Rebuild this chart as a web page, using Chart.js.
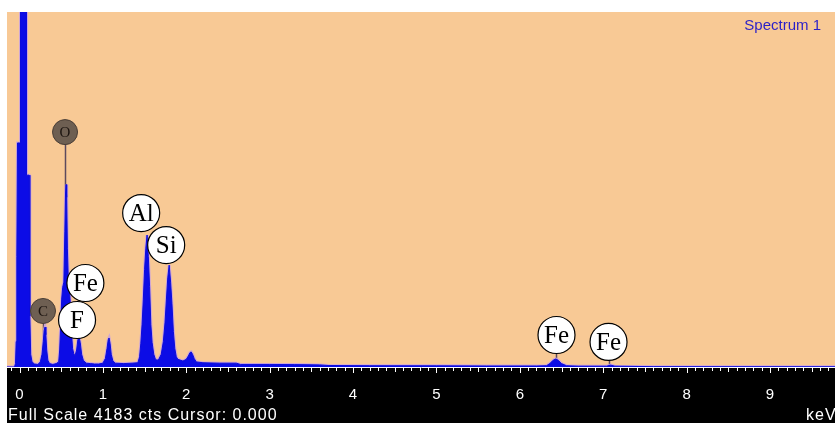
<!DOCTYPE html>
<html>
<head>
<meta charset="utf-8">
<script src="https://cdn.jsdelivr.net/npm/chart.js@4/dist/chart.umd.min.js"></script>
<style>
  html, body { margin: 0; padding: 0; background: #ffffff; }
  canvas { display: block; }
</style>
</head>
<body>
<canvas id="spec" width="835" height="423"></canvas>
<script>
// EDS spectrum: energy (keV) vs counts
const fullScale = 4183;
const spectrumName = 'Spectrum 1';

const energies = [
  -0.150, -0.060, -0.048, -0.040, -0.032, -0.024, -0.004, 0.006, 0.012, 0.078, 0.084, 0.114, 0.124, 0.134, 0.150,
  0.180, 0.220, 0.250, 0.270, 0.285, 0.296, 0.306, 0.316, 0.326, 0.340, 0.360, 0.400, 0.440,
  0.470, 0.482, 0.494, 0.506, 0.518, 0.532, 0.544, 0.552, 0.558, 0.566, 0.574, 0.586, 0.600, 0.612, 0.624, 0.636, 0.650,
  0.665, 0.685, 0.700, 0.714, 0.728, 0.745, 0.765, 0.800, 0.850, 0.900, 0.950, 1.000,
  1.030, 1.050, 1.064, 1.074, 1.086, 1.100, 1.120, 1.150, 1.250, 1.350,
  1.420, 1.440, 1.455, 1.470, 1.485, 1.500, 1.515, 1.530, 1.545, 1.560, 1.575, 1.590, 1.610, 1.630, 1.650,
  1.670, 1.700, 1.725, 1.745, 1.762, 1.778, 1.795, 1.812, 1.828, 1.845, 1.862, 1.880, 1.900,
  1.960, 2.000, 2.025, 2.045, 2.059, 2.075, 2.095, 2.120, 2.200, 2.400, 2.600, 2.650, 3.000, 3.300, 3.600, 3.700,
  4.200, 5.000, 5.600, 6.200, 6.320, 6.360, 6.400, 6.430, 6.460, 6.500, 6.560, 6.700,
  7.040, 7.090, 7.140, 7.600, 9.800
];

const counts = [
  0, 0, 40, 300, 1300, 2640, 2640, 2640, 6000, 6000, 2260, 2260, 600, 150, 60,
  35, 30, 60, 150, 300, 430, 470, 380, 200, 80, 40, 30, 40,
  60, 200, 500, 800, 940, 1000, 1600, 2050, 2150, 2000, 1400, 1000, 900, 700, 400, 220, 160,
  130, 200, 320, 353, 290, 150, 80, 45, 40, 35, 35, 45,
  100, 220, 320, 342, 280, 150, 70, 45, 40, 45,
  50, 120, 280, 500, 800, 1150, 1400, 1555, 1300, 950, 500, 290, 150, 90, 80,
  90, 150, 300, 520, 800, 1050, 1200, 1000, 750, 420, 220, 120, 90,
  70, 90, 130, 170, 177, 150, 100, 60, 50, 45, 45, 30, 30, 28, 25, 18,
  15, 14, 12, 12, 15, 40, 80, 94, 80, 40, 15, 10,
  10, 22, 10, 4, 3
];

// Element markers: symbol, energy of the circle centre (keV), height (counts)
const markerSymbols  = ['O', 'C', 'Fe', 'F', 'Al', 'Si', 'Fe', 'Fe'];
const markerEnergies = [0.546, 0.282, 0.790, 0.690, 1.459, 1.759, 6.440, 7.064];
const markerCounts   = [2768, 660, 990, 554, 1814, 1437, 377, 295];
const markerLight    = [false, false, true, true, true, true, true, true];
const markerStem     = [true, true, false, false, false, false, true, true];

const xMin = -0.15, xMax = 9.78;
const captionFont = '16px "Liberation Sans", Arial, sans-serif';

const backgroundPlugin = {
  id: 'panel',
  beforeDraw(chart) {
    const { ctx, chartArea: a } = chart;
    ctx.save();
    ctx.fillStyle = '#ffffff';
    ctx.fillRect(0, 0, chart.width, chart.height);
    ctx.fillStyle = '#f8c995';
    ctx.fillRect(a.left, a.top, a.right - a.left, a.bottom - a.top);
    ctx.fillStyle = '#000000';
    ctx.fillRect(a.left, a.bottom, a.right - a.left, chart.height - a.bottom);
    ctx.restore();
  },
  beforeDatasetsDraw(chart) {
    // marker stems sit behind the spectrum
    const { ctx, scales: { x, y } } = chart;
    ctx.save();
    ctx.strokeStyle = '#5c4a5e';
    ctx.lineWidth = 1.5;
    markerSymbols.forEach((s, i) => {
      if (!markerStem[i]) return;
      const px = Math.round(x.getPixelForValue(markerEnergies[i])) + 0.5;
      ctx.beginPath();
      ctx.moveTo(px, y.getPixelForValue(markerCounts[i]));
      ctx.lineTo(px, y.getPixelForValue(0));
      ctx.stroke();
    });
    ctx.restore();
  },
  afterDatasetsDraw(chart) {
    const { ctx, scales: { x, y }, chartArea: a } = chart;
    ctx.save();
    // element label circles
    markerSymbols.forEach((s, i) => {
      const cx = x.getPixelForValue(markerEnergies[i]);
      const cy = y.getPixelForValue(markerCounts[i]);
      ctx.beginPath();
      if (markerLight[i]) {
        ctx.arc(cx, cy, 18.5, 0, Math.PI * 2);
        ctx.fillStyle = '#ffffff';
        ctx.fill();
        ctx.lineWidth = 1.2;
        ctx.strokeStyle = '#000000';
        ctx.stroke();
        ctx.fillStyle = '#000000';
        ctx.font = '25px "Liberation Serif", "Times New Roman", serif';
      } else {
        ctx.arc(cx, cy, 12.5, 0, Math.PI * 2);
        ctx.fillStyle = '#6e5f52';
        ctx.fill();
        ctx.lineWidth = 1;
        ctx.strokeStyle = '#4a3e36';
        ctx.stroke();
        ctx.fillStyle = '#1c1410';
        ctx.font = '15px "Liberation Serif", "Times New Roman", serif';
      }
      ctx.textAlign = 'center';
      ctx.textBaseline = 'middle';
      ctx.fillText(s, cx, cy + 1);
    });

    // axis tick marks: every 0.1 keV, longer at whole keV
    ctx.strokeStyle = '#ffffff';
    ctx.lineWidth = 1;
    for (let k = -1; k <= 98; k++) {
      const e = k / 10;
      if (e < xMin || e > xMax) continue;
      const px = Math.round(x.getPixelForValue(e)) + 0.5;
      const len = (k % 10 === 0) ? 6 : (k % 5 === 0 ? 5 : 4);
      ctx.beginPath();
      ctx.moveTo(px, a.bottom);
      ctx.lineTo(px, a.bottom + len);
      ctx.stroke();
    }

    // captions
    ctx.fillStyle = '#ffffff';
    ctx.font = captionFont;
    ctx.letterSpacing = '1px';
    ctx.textBaseline = 'middle';
    ctx.textAlign = 'left';
    ctx.fillText('Full Scale ' + fullScale + ' cts Cursor: 0.000', 8, 416);
    ctx.fillText('keV', 806, 416);
    ctx.letterSpacing = '0px';
    ctx.font = '15px "Liberation Sans", Arial, sans-serif';
    ctx.fillStyle = '#2a1fc8';
    ctx.textAlign = 'right';
    ctx.fillText(spectrumName, 821, 26);
    ctx.restore();
  }
};

const points = energies.map((e, i) => ({ x: e, y: counts[i] }));

new Chart(document.getElementById('spec'), {
  type: 'line',
  data: {
    datasets: [{
      // filled spectrum
      data: points,
      borderColor: '#0c0cdc',
      backgroundColor: '#0c0ce6',
      borderWidth: 1,
      pointRadius: 0,
      tension: 0,
      fill: 'origin',
      order: 1
    }, {
      // soft lavender rim around the spectrum outline
      data: points,
      borderColor: 'rgba(200,160,225,0.85)',
      borderWidth: 3,
      pointRadius: 0,
      tension: 0,
      fill: false,
      order: 2
    }]
  },
  options: {
    responsive: false,
    animation: false,
    devicePixelRatio: 1,
    layout: { padding: { left: 7, top: 12, right: 0, bottom: 0 } },
    plugins: { legend: { display: false }, tooltip: { enabled: false } },
    scales: {
      x: {
        type: 'linear',
        min: xMin,
        max: xMax,
        afterFit(scale) { scale.height = 56; },
        grid: { display: false },
        border: { display: true, color: '#ffffff', width: 1 },
        ticks: {
          stepSize: 1,
          includeBounds: false,
          color: '#ffffff',
          padding: 11,
          maxRotation: 0,
          font: { family: '"Liberation Sans", Arial, sans-serif', size: 15 },
          callback: (v) => Number.isInteger(v) ? String(v) : ''
        }
      },
      y: { display: false, min: 0, max: fullScale }
    }
  },
  plugins: [backgroundPlugin]
});
</script>
</body>
</html>
